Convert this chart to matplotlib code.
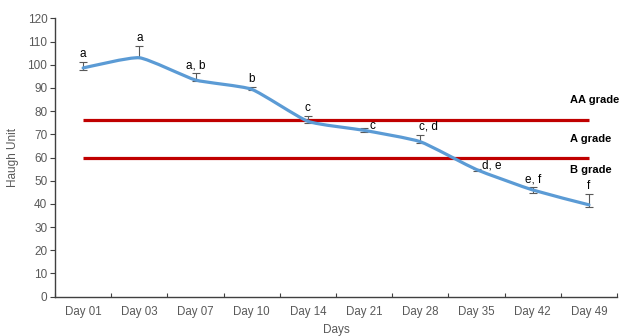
import matplotlib
matplotlib.use("Agg")
import matplotlib.pyplot as plt
from matplotlib.path import Path
from matplotlib.patches import PathPatch
import numpy as np

plt.rcParams["font.family"] = ["Liberation Sans", "DejaVu Sans"]

days = ["Day 01", "Day 03", "Day 07", "Day 10", "Day 14",
        "Day 21", "Day 28", "Day 35", "Day 42", "Day 49"]
haugh = [98.6, 103.0, 93.4, 89.4, 75.6, 71.7, 66.8, 54.8, 46.0, 39.6]
err_low = [1.0, 0.0, 0.4, 0.5, 0.9, 0.8, 0.5, 0.8, 1.1, 1.1]
err_high = [2.7, 4.9, 2.9, 0.9, 2.4, 0.9, 2.9, 0.3, 1.2, 4.5]
letters = ["a", "a", "a, b", "b", "c", "c", "c, d", "d, e", "e, f", "f"]

# USDA grade limits (Haugh units)
grade_limits = [76, 60]
grade_names = ["AA grade", "A grade", "B grade"]
grade_label_y = [84.8, 68.0, 54.6]

GRAY = "#595959"
BLUE = "#5B9BD5"
RED = "#C00000"


def smooth_path(xs, ys, tension=12.0):
    # gentle bezier through every point, like a spreadsheet "smoothed line"
    pts = np.column_stack([xs, ys]).astype(float)
    padded = np.vstack([pts[0], pts, pts[-1]])
    verts = [tuple(pts[0])]
    codes = [Path.MOVETO]
    for i in range(len(pts) - 1):
        p0, p1, p2, p3 = padded[i], padded[i + 1], padded[i + 2], padded[i + 3]
        c1 = p1 + (p2 - p0) / tension
        c2 = p2 - (p3 - p1) / tension
        verts += [tuple(c1), tuple(c2), tuple(p2)]
        codes += [Path.CURVE4] * 3
    return Path(verts, codes)


fig = plt.figure(figsize=(6.21, 3.36), dpi=100)
ax = fig.add_axes([0.0886, 0.117, 0.905, 0.8285])

x = np.arange(len(days))

for lim in grade_limits:
    ax.plot([x[0], x[-1]], [lim, lim], color=RED, linewidth=2.3, zorder=2,
            solid_capstyle="butt")

ax.errorbar(x, haugh, yerr=[err_low, err_high], fmt="none", ecolor=GRAY,
            elinewidth=0.8, capsize=3, capthick=0.8, zorder=3)

ax.add_patch(PathPatch(smooth_path(x, haugh), fill=False, edgecolor=BLUE,
                       linewidth=2.3, zorder=4, capstyle="round"))

for i, (v, e, lab) in enumerate(zip(haugh, err_high, letters)):
    if i in (5, 7):
        # these two sit to the right of the point
        ax.annotate(lab, (i, v), xytext=(4, 3), textcoords="offset points",
                    ha="left", va="center", fontsize=8.5)
    elif i == 6:
        ax.annotate(lab, (i, v + e), xytext=(6, 1.5), textcoords="offset points",
                    ha="center", va="bottom", fontsize=8.5)
    else:
        ax.annotate(lab, (i, v + e), xytext=(0, 1.5), textcoords="offset points",
                    ha="center", va="bottom", fontsize=8.5)

for name, gy in zip(grade_names, grade_label_y):
    ax.text(8.66, gy, name, ha="left", va="center", fontsize=8,
            fontweight="bold", clip_on=False)

ax.set_xlim(-0.5, len(days) - 0.5)
ax.set_ylim(0, 120)
ax.set_yticks(np.arange(0, 121, 10))
ax.set_xticks(x)
ax.set_xticklabels(days)
ax.set_xticks(np.arange(-0.5, len(days), 1.0), minor=True)

ax.tick_params(axis="x", which="major", length=0, pad=7, labelsize=8.3, labelcolor=GRAY)
ax.tick_params(axis="x", which="minor", direction="in", length=3, width=0.8, color="#404040")
ax.tick_params(axis="y", which="major", direction="out", length=3.5, width=0.8,
               color="#404040", pad=2, labelsize=8.5, labelcolor=GRAY)

for side in ("top", "right"):
    ax.spines[side].set_visible(False)
for side in ("left", "bottom"):
    ax.spines[side].set_color("#404040")
    ax.spines[side].set_linewidth(1.0)

ax.set_xlabel("Days", fontsize=8.5, color=GRAY, labelpad=4)
ax.set_ylabel("Haugh Unit", fontsize=8.5, color=GRAY, labelpad=6)

fig.savefig("out.png", dpi=100)
